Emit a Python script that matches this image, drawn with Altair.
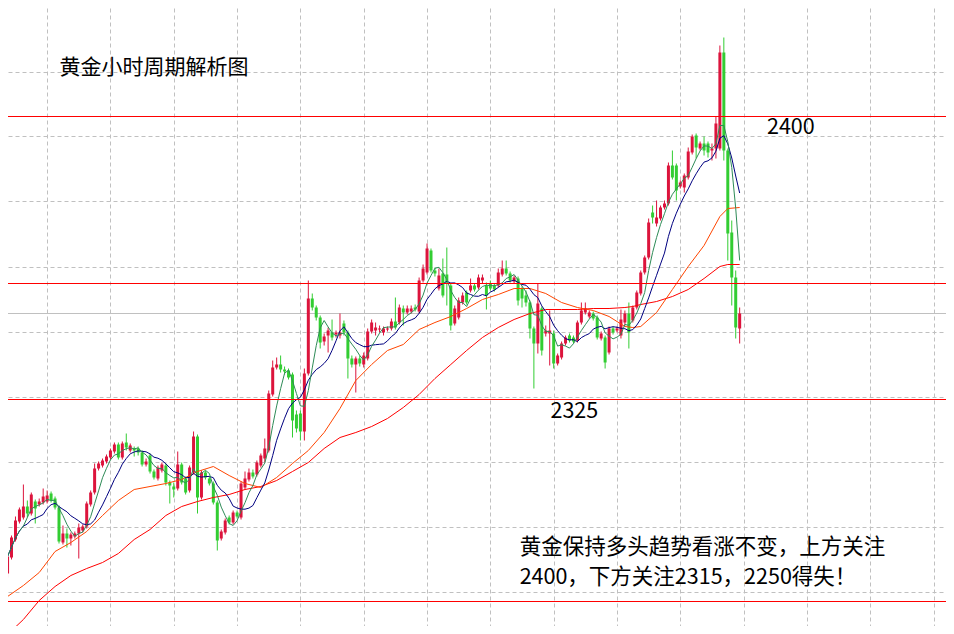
import altair as alt
import pandas as pd

# ---------------- data ----------------
opens = [
    2285.75, 2289.75, 2294.25, 2298.75, 2299.75, 2302.5, 2300.75, 2303.75, 2303, 2303.5,
    2303.75, 2305.75, 2304.5, 2302.25, 2293.5, 2295.75, 2294.5, 2295, 2295.75, 2296.5,
    2297.5, 2303, 2306, 2312, 2312.75, 2313.75, 2314.75, 2316.25, 2318, 2314.75,
    2318.5, 2316.5, 2317, 2317, 2316, 2313, 2315.25, 2311.25, 2309.5, 2311.5,
    2312.75, 2308.5, 2307.5, 2307, 2313, 2309.5, 2306.5, 2311, 2320, 2304.75,
    2311, 2309.5, 2308.25, 2303.5, 2294.5, 2296, 2299.75, 2298.5, 2301, 2299.75,
    2307.25, 2309.25, 2311, 2310.5, 2312.75, 2314.5, 2316.5, 2330.5, 2337.25, 2338,
    2336.75, 2336.5, 2335.5, 2325.5, 2325.75, 2321.25, 2335.75, 2354.5, 2352.25, 2349.75,
    2343.75, 2345.25, 2346, 2345.5, 2345.25, 2348.25, 2346, 2339.5, 2338, 2339.5,
    2338, 2339.5, 2346.25, 2346.5, 2346.75, 2346, 2346.75, 2347, 2348.75, 2348.5,
    2352, 2351, 2351.25, 2352.25, 2351.25, 2359, 2361, 2366.5, 2361.5, 2357,
    2360.75, 2360.5, 2357.75, 2348.25, 2349.75, 2353.5, 2356, 2356.5, 2357.75, 2357.25,
    2359, 2357.75, 2358.25, 2357.75, 2357.75, 2360.5, 2362, 2360.75, 2358.75, 2359.5,
    2357, 2355.25, 2353.5, 2347, 2343.25, 2352, 2345.75, 2345.75, 2345.75, 2338.25,
    2339.75, 2343.25, 2345.25, 2344.75, 2344, 2348.5, 2351, 2350, 2350.75, 2349.75,
    2344.5, 2344.75, 2341, 2347, 2346.5, 2345.25, 2348.5, 2350.75, 2349, 2352.25,
    2355.75, 2361, 2364.75, 2376, 2373.25, 2374.5, 2377.25, 2378.25, 2387.75, 2387.75,
    2382.5, 2382.25, 2384.75, 2391, 2395.25, 2392, 2393.25, 2393.25, 2391.5, 2392,
    2392, 2416, 2391.5, 2371, 2359.75, 2347,
]
highs = [
    2290.75, 2295.25, 2300, 2302.25, 2308, 2304, 2306, 2304.25, 2304.5, 2307,
    2306.5, 2306.25, 2305, 2302.75, 2297.75, 2297, 2296, 2296.25, 2298.25, 2298,
    2303.75, 2306.5, 2313.25, 2313.75, 2314.5, 2315.5, 2317, 2318.5, 2318.5, 2318.75,
    2320.75, 2318.25, 2317.5, 2317.5, 2316.5, 2314.5, 2315.75, 2311.75, 2312.75, 2313.5,
    2313.25, 2309, 2308.5, 2316.25, 2313.5, 2310, 2312.75, 2321.25, 2320.5, 2311.5,
    2311.5, 2310, 2308.75, 2304, 2296.75, 2299.5, 2300.25, 2301.5, 2301.5, 2308.75,
    2311.25, 2312, 2311.75, 2314, 2315.75, 2319.5, 2331.5, 2339, 2339.75, 2340.25,
    2337.5, 2337, 2336, 2326.5, 2326.5, 2337, 2359, 2355.75, 2352.75, 2350.25,
    2345.75, 2347.25, 2349.25, 2346.5, 2350.75, 2349, 2346.5, 2340.25, 2340, 2340.25,
    2341, 2347, 2349.25, 2348.5, 2347.75, 2347.5, 2347.5, 2349.5, 2354.75, 2353,
    2352.75, 2352.75, 2352.75, 2353, 2359.75, 2363, 2368.25, 2367, 2362.25, 2362,
    2364.5, 2367.25, 2358.25, 2352.75, 2354.75, 2356, 2356.5, 2359.5, 2358.25, 2360.5,
    2360.5, 2358.5, 2359, 2358.25, 2362, 2364, 2364, 2361.25, 2360.25, 2360,
    2357.5, 2356.5, 2354, 2347.5, 2358.25, 2352.5, 2347.75, 2351.5, 2346.5, 2340.75,
    2343.75, 2345.25, 2345.75, 2345.25, 2349, 2353.5, 2353.5, 2351.5, 2351.25, 2350.25,
    2346.25, 2345.25, 2347.5, 2347.5, 2347.5, 2351.75, 2351.5, 2353.5, 2352.75, 2356.5,
    2361.5, 2365.25, 2374.5, 2377.75, 2379, 2377.75, 2379, 2388.5, 2391.5, 2388.25,
    2384, 2385.75, 2392.25, 2395.5, 2395.75, 2393.75, 2395, 2393.75, 2393.25, 2400,
    2417.75, 2419.75, 2392, 2374, 2361.5, 2352.25,
]
lows = [
    2284.75, 2289.25, 2293.75, 2298.25, 2299.25, 2299.75, 2300.25, 2298.25, 2302.5, 2303,
    2303.25, 2303.5, 2301.75, 2293.25, 2293, 2292.25, 2292.75, 2294.5, 2289.5, 2296,
    2297, 2302.5, 2305.5, 2311.5, 2312.25, 2313.25, 2314.25, 2315.75, 2314.25, 2314.25,
    2316.5, 2316, 2315, 2315.25, 2312.5, 2312.5, 2310.75, 2309.25, 2309, 2311,
    2307.75, 2303.25, 2304.75, 2306.5, 2308, 2305.5, 2306, 2310.5, 2300.75, 2304.25,
    2309.25, 2307.75, 2303, 2291.5, 2294, 2295.5, 2298, 2298, 2299.5, 2299.25,
    2306.75, 2308.75, 2309.5, 2310, 2312.25, 2313.5, 2316, 2330, 2336.75, 2336,
    2335.5, 2334.25, 2319.75, 2321, 2319, 2319, 2335.25, 2351.5, 2349, 2342,
    2342.75, 2341, 2344, 2344.75, 2344.5, 2345.25, 2334.5, 2337.25, 2331, 2337.5,
    2337.25, 2339, 2345.75, 2345.25, 2346, 2345.25, 2346.25, 2346.5, 2346.75, 2348,
    2347.75, 2350.5, 2350.75, 2351.25, 2350.75, 2358.5, 2360.5, 2361, 2360, 2356.5,
    2354.75, 2352.75, 2346.5, 2347.75, 2349.25, 2353, 2353, 2356, 2356.25, 2356.75,
    2358.25, 2351.75, 2356.5, 2356.25, 2357.25, 2360, 2360.25, 2358.5, 2358.25, 2352.75,
    2352.25, 2352.5, 2344.5, 2332, 2340.75, 2340.25, 2345, 2337.75, 2337, 2337.75,
    2339.25, 2342.75, 2343.5, 2343.25, 2343.5, 2348, 2350.5, 2349.5, 2349, 2344.25,
    2344, 2337, 2340.5, 2345.5, 2346, 2344.5, 2347.75, 2342, 2348.5, 2351.75,
    2355.25, 2360.5, 2364.25, 2373.25, 2372.5, 2374, 2376.75, 2377.75, 2384.25, 2379,
    2382, 2381, 2384.25, 2390.5, 2389.5, 2391.5, 2390.25, 2389.75, 2389, 2389.5,
    2391.5, 2389, 2364, 2352.75, 2344.5, 2343.25,
]
closes = [
    2290, 2294.75, 2299, 2301.75, 2302.5, 2300.75, 2305.5, 2302, 2303.75, 2305,
    2305.25, 2304, 2302.25, 2293.75, 2295.75, 2294.5, 2295.5, 2295.75, 2297.25, 2297.5,
    2303.25, 2306, 2312, 2313.25, 2314, 2315, 2316.5, 2318, 2314.75, 2318.25,
    2317.25, 2317.75, 2316.5, 2316, 2313, 2313.75, 2311.25, 2309.75, 2312.25, 2313,
    2308.5, 2307.75, 2306.75, 2313, 2308.5, 2306, 2312.25, 2320, 2304.75, 2311,
    2309.75, 2308.25, 2303.5, 2294, 2296.25, 2299, 2298.5, 2301, 2300, 2308.25,
    2309.5, 2311, 2310, 2313.5, 2315.25, 2317, 2330.75, 2337.25, 2338, 2336.75,
    2336.25, 2334.75, 2324, 2322, 2321.25, 2335.75, 2354.5, 2352.25, 2349.75, 2343.5,
    2345, 2346.5, 2344.75, 2346, 2346, 2346, 2339.5, 2338, 2339.5, 2338.25,
    2340.25, 2346.25, 2348.5, 2347.25, 2347, 2347, 2347, 2348.75, 2347.25, 2352.25,
    2351, 2352, 2352, 2351.75, 2359, 2362, 2367, 2361.5, 2360.75, 2360.25,
    2355.25, 2358.5, 2347.75, 2352, 2354, 2355.25, 2353.5, 2357.75, 2356.75, 2359.75,
    2359.75, 2355.25, 2357, 2356.75, 2361, 2362, 2360.75, 2359, 2359.75, 2354,
    2354.5, 2353.5, 2347, 2343.25, 2353.25, 2341.5, 2346.5, 2346.5, 2338.25, 2340.25,
    2343.25, 2344.75, 2344, 2343.75, 2348.5, 2351.5, 2352, 2351, 2349.5, 2344.75,
    2345.75, 2338.5, 2347, 2346, 2347, 2349.25, 2350.75, 2346, 2352.25, 2356,
    2361, 2364.75, 2373.5, 2374.75, 2374.75, 2377.25, 2378.25, 2387.75, 2384.75, 2381.5,
    2383.5, 2385.25, 2391.25, 2395, 2392.25, 2393.25, 2391.5, 2391, 2392, 2398.25,
    2416, 2391.5, 2370.75, 2359.75, 2347.25, 2350.75,
]

# slow moving averages (read at every 4th bar)
ma_bar = [0, 4, 8, 12, 16, 20, 24, 28, 32, 36, 40, 44, 48, 52, 56, 60, 64, 68, 72, 76,
          80, 84, 88, 92, 96, 100, 104, 108, 112, 116, 120, 124, 128, 132, 136, 140, 144,
          148, 152, 156, 158, 160, 164, 168, 172, 176, 180, 182, 185]
ma_orange = [2280, 2282.75, 2286, 2291.25, 2293.5, 2296.25, 2300.25, 2304, 2306.75, 2307.5,
             2308.25, 2309.25, 2311.25, 2312.5, 2310.25, 2308.25, 2307.25, 2309.75, 2313.25,
             2316.5, 2321, 2327, 2334, 2338, 2341.5, 2343, 2346.75, 2348.5, 2350, 2352,
             2354.25, 2355.5, 2357, 2357, 2355.75, 2353.5, 2352.25, 2351.5, 2350, 2347.5,
             2347.25, 2347.5, 2351, 2356.75, 2362.5, 2367.75, 2375, 2377, 2377.25]
ma_red = [2270.5, 2274.25, 2279, 2282.5, 2285.25, 2287, 2288.5, 2290.75, 2294.25, 2296.75,
          2300.25, 2302.5, 2303.75, 2304.75, 2305.5, 2306.75, 2307.5, 2309, 2311.25, 2313.5,
          2317, 2319.75, 2321, 2322.5, 2324.5, 2327.25, 2330.5, 2334.5, 2338, 2341.5,
          2344.75, 2347.25, 2349.25, 2350.75, 2351.75, 2351.75, 2351.75, 2352, 2352, 2352.25,
          2352.5, 2353, 2353.75, 2355, 2356.75, 2359.5, 2362.5, 2363, 2363]

red_levels = [2400, 2358.25, 2329.25, 2278.75]
gray_levels = [2350.75]

grid_bars = [10, 26, 42, 58, 74, 90, 106, 122, 138, 154, 170, 186, 202, 218, 234]
grid_prices = [2411.25, 2395.0, 2378.75, 2362.5, 2346.25, 2330.0, 2313.75, 2297.5, 2281.25]

title_text = "黄金小时周期解析图"
label_hi = "2400"
label_lo = "2325"
note_lines = ["黄金保持多头趋势看涨不变，上方关注", "2400，下方关注2315，2250得失！"]

# ---------------- tables ----------------
n = len(closes)
assert len(opens) == n and len(highs) == n and len(lows) == n, (len(opens), len(highs), len(lows), n)
assert len(ma_bar) == len(ma_orange) == len(ma_red)

candles = pd.DataFrame({"i": list(range(n)), "open": opens, "high": highs,
                        "low": lows, "close": closes})
slow = pd.DataFrame({"i": ma_bar, "orange": ma_orange, "red": ma_red})
lv_red = pd.DataFrame({"level": red_levels})
lv_gray = pd.DataFrame({"level": gray_levels})
texts = pd.DataFrame({
    "i": [13.1, 191.9, 137.2, 129.4, 129.4],
    "p": [2412.25, 2397.25, 2326.25, 2292.25, 2284.75],
    "t": [title_text, label_hi, label_lo, note_lines[0], note_lines[1]],
    "s": [21, 21.5, 21.5, 21.5, 21.5],
})

# ---------------- scales / axes ----------------
GRID = "#c0c0c0"
# 4 px per bar and 4 px per price unit, as in the original terminal chart
xscale = alt.Scale(domain=[1.375, 235.875], nice=False, zero=False)
yscale = alt.Scale(domain=[2272.625, 2427.125], nice=False, zero=False)
xaxis = alt.Axis(values=grid_bars, grid=True, gridColor=GRID, gridDash=[4, 3], gridWidth=1,
                 labels=False, ticks=False, domain=False, title=None)
yaxis = alt.Axis(values=grid_prices, grid=True, gridColor=GRID, gridDash=[4, 3], gridWidth=1,
                 labels=False, ticks=False, domain=False, title=None)


def X(field="i"):
    return alt.X(f"{field}:Q", scale=xscale, axis=xaxis)


def Y(field):
    return alt.Y(f"{field}:Q", scale=yscale, axis=yaxis)


UP = "#DC143C"
DOWN = "#32CD32"
cand_color = alt.condition("datum.close >= datum.open", alt.value(UP), alt.value(DOWN))

base = alt.Chart(candles)

wicks = base.mark_rule(strokeWidth=1, clip=True).encode(
    x=X(), y=Y("low"), y2="high", color=cand_color)
bodies = base.mark_bar(size=3, clip=True).encode(
    x=X(), y=Y("open"), y2="close", color=cand_color)

ma5 = base.transform_window(
    ma5="mean(close)", frame=[-4, 0], sort=[alt.SortField("i", order="ascending")]
).mark_line(color="#2E8B57", strokeWidth=1, clip=True).encode(x=X(), y=Y("ma5"))

ma10 = base.transform_window(
    ma10="mean(close)", frame=[-9, 0], sort=[alt.SortField("i", order="ascending")]
).mark_line(color="#000080", strokeWidth=1, clip=True).encode(x=X(), y=Y("ma10"))

orange_line = alt.Chart(slow).mark_line(color="#FF4500", strokeWidth=1, clip=True).encode(
    x=X(), y=Y("orange"))
red_line = alt.Chart(slow).mark_line(color="#FF0000", strokeWidth=1, clip=True).encode(
    x=X(), y=Y("red"))

gray_rule = alt.Chart(lv_gray).mark_rule(color="#c0c0c0", strokeWidth=1).encode(y=Y("level"))
red_rules = alt.Chart(lv_red).mark_rule(color="#FF0000", strokeWidth=1).encode(y=Y("level"))

text_layer = alt.Chart(texts).mark_text(
    align="left", baseline="middle", font="Noto Sans CJK SC", color="#000000"
).encode(x=X(), y=Y("p"), text="t:N", size=alt.Size("s:Q", scale=None, legend=None))

chart = alt.layer(
    gray_rule, wicks, bodies, red_line, orange_line, ma10, ma5, red_rules, text_layer
).properties(
    width=938, height=618, padding=0,
    autosize=alt.AutoSizeParams(type="none"), background="white"
).configure_view(strokeWidth=0)

chart.save("out.html", embed_options={"renderer": "svg", "actions": False})
